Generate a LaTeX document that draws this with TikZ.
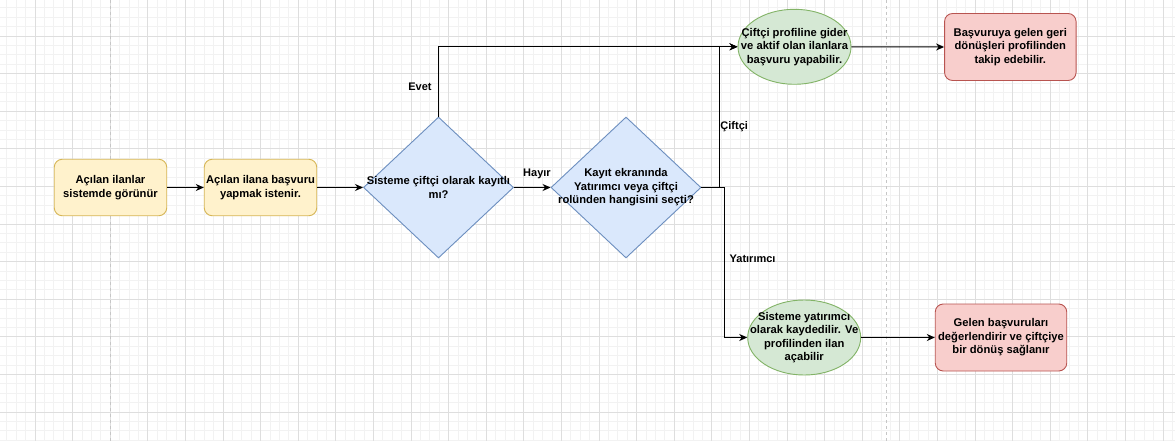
\documentclass[tikz,border=0pt]{standalone}
\usepackage{fontspec}
\setmainfont{Liberation Sans}
\usetikzlibrary{shapes.geometric,arrows.meta}
\definecolor{gminor}{HTML}{F2F2F2}
\definecolor{gmajor}{HTML}{DEDEDE}
\definecolor{gdash}{HTML}{C6C6C6}
\definecolor{yfill}{HTML}{FFF2CC}\definecolor{ydraw}{HTML}{D6B656}
\definecolor{bfill}{HTML}{DAE8FC}\definecolor{bdraw}{HTML}{6C8EBF}
\definecolor{gfill}{HTML}{D5E8D4}\definecolor{gdraw}{HTML}{82B366}
\definecolor{rfill}{HTML}{F8CECC}\definecolor{rdraw}{HTML}{B85450}
\begin{document}
\begin{tikzpicture}[x=1pt,y=-1pt,
  minorline/.style={draw=gminor,line width=0.8pt},
  majorline/.style={draw=gmajor,line width=0.8pt},
  pageline/.style={draw=gdash,line width=1pt,dash pattern=on 3pt off 3pt},
  basebox/.style={inner sep=0pt,line width=0.9pt,align=center,font=\bfseries\fontsize{11.2}{13.6}\selectfont},
  yellowbox/.style={basebox,rectangle,rounded corners=8pt,fill=yfill,draw=ydraw,minimum width=112.5pt,minimum height=56.5pt},
  redbox/.style={basebox,rectangle,rounded corners=8pt,fill=rfill,draw=rdraw,minimum width=131.5pt,minimum height=67pt},
  decision/.style={basebox,diamond,fill=bfill,draw=bdraw,minimum width=150pt,minimum height=141pt},
  oval/.style={basebox,ellipse,fill=gfill,draw=gdraw,minimum width=113pt,minimum height=75pt},
  txt/.style={inner sep=0pt,align=center,font=\bfseries\fontsize{11.2}{13.4}\selectfont},
  lbl/.style={inner sep=0pt,font=\bfseries\fontsize{11}{12}\selectfont},
  conn/.style={draw=black,line width=1pt,-{Stealth[length=8pt,width=7pt,inset=2.5pt]}},
  plainconn/.style={draw=black,line width=1pt}
]
\useasboundingbox (0,0) rectangle (1175,441);
\fill[white] (0,0) rectangle (1175,441);
\begin{scope}
\clip (0,0) rectangle (1175,441);
\foreach \i in {0,...,126} \draw[minorline] ({-2.6+9.4*\i},0) -- ++(0,441);
\foreach \i in {0,...,48} \draw[minorline] (0,{-1.6+9.4*\i}) -- ++(1175,0);
\foreach \i in {0,...,31} \draw[majorline] ({-2.6+37.6*\i},0) -- ++(0,441);
\foreach \i in {0,...,12} \draw[majorline] (0,{-1.6+37.6*\i}) -- ++(1175,0);
\draw[pageline] (110.2,0) -- (110.2,441);
\draw[pageline] (886.7,0) -- (886.7,441);
\end{scope}

% nodes
\node[yellowbox] (n1) at (110.5,187.5) {Açılan ilanlar\\sistemde görünür};
\node[yellowbox] (n2) at (260.5,187.5) {Açılan ilana başvuru\\yapmak istenir.};
\node[decision] (d1) at (438.5,187.5) {};
\node[txt] (d1t) at (438.5,187.5) {Sisteme çiftçi olarak kayıtlı\\mı?};
\node[decision] (d2) at (626,187.5) {};
\node[txt] (d2t) at (626,187.5) {Kayıt ekranında\\Yatırımcı veya çiftçi\\rolünden hangisini seçti?};
\node[oval] (e1) at (794.5,46.8) {};
\node[txt] (e1t) at (794.5,46.8) {Çiftçi profiline gider\\ve aktif olan ilanlara\\başvuru yapabilir.};
\node[oval] (e2) at (804.2,337.5) {};
\node[txt] (e2t) at (804.2,337.5) {Sisteme yatırımcı\\olarak kaydedilir. Ve\\profilinden ilan\\açabilir};
\node[redbox] (r1) at (1010.3,47) {Başvuruya gelen geri\\dönüşleri profilinden\\takip edebilir.};
\node[redbox] (r2) at (1001,337.5) {Gelen başvuruları\\değerlendirir ve çiftçiye\\bir dönüş sağlanır};

\coordinate (j1) at (719.5,187.5);
\coordinate (j2) at (724,187.5);

% connectors
\draw[conn] (n1.east) -- (n2.west);
\draw[conn] (n2.east) -- (d1.west);
\draw[conn] (d1.north) |- (e1.west);
\draw[conn] (d1.east) -- (d2.west);
\draw[conn] (d2.east) -- (j1) |- (e1.west);
\draw[conn] (d2.east) -- (j2) |- (e2.west);
\draw[conn] (e1.east) -- (r1.west);
\draw[conn] (e2.east) -- (r2.west);

% labels
\node[lbl] (levet) at (420,86.7) {Evet};
\node[lbl] (lhayir) at (537,174.3) {Hayır};
\node[lbl] (lciftci) at (734.2,126.5) {Çiftçi};
\node[lbl] (lyat) at (752.6,258.3) {Yatırımcı};
\end{tikzpicture}
\end{document}
